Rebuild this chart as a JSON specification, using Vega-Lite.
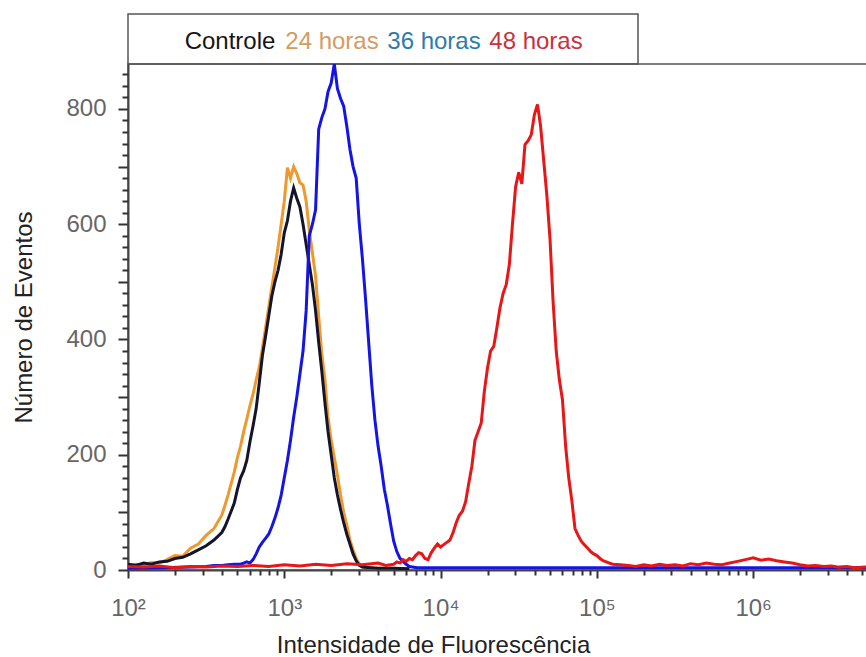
{
  "$schema": "https://vega.github.io/schema/vega-lite/v6.json",
  "autosize": "pad",
  "padding": {"left": 12, "top": 13, "right": 0, "bottom": 0},
  "background": "white",
  "spacing": 0,
  "bounds": "flush",
  "resolve": {"scale": {"color": "independent"}},
  "datasets": {
    "rotulos": [
      {"serie": "Controle"},
      {"serie": "24 horas"},
      {"serie": "36 horas"},
      {"serie": "48 horas"}
    ],
    "curvas": [
      {"serie": "24 horas", "intensidade": 100, "eventos": 8},
      {"serie": "24 horas", "intensidade": 112.2, "eventos": 10},
      {"serie": "24 horas", "intensidade": 125.9, "eventos": 9},
      {"serie": "24 horas", "intensidade": 141.3, "eventos": 13},
      {"serie": "24 horas", "intensidade": 158.5, "eventos": 12},
      {"serie": "24 horas", "intensidade": 177.8, "eventos": 18},
      {"serie": "24 horas", "intensidade": 199.5, "eventos": 25},
      {"serie": "24 horas", "intensidade": 223.9, "eventos": 24},
      {"serie": "24 horas", "intensidade": 251.2, "eventos": 38},
      {"serie": "24 horas", "intensidade": 281.8, "eventos": 45},
      {"serie": "24 horas", "intensidade": 316.2, "eventos": 60},
      {"serie": "24 horas", "intensidade": 354.8, "eventos": 72},
      {"serie": "24 horas", "intensidade": 398.1, "eventos": 95},
      {"serie": "24 horas", "intensidade": 416.9, "eventos": 112},
      {"serie": "24 horas", "intensidade": 436.5, "eventos": 130},
      {"serie": "24 horas", "intensidade": 457.1, "eventos": 150},
      {"serie": "24 horas", "intensidade": 478.6, "eventos": 170},
      {"serie": "24 horas", "intensidade": 501.2, "eventos": 195},
      {"serie": "24 horas", "intensidade": 524.8, "eventos": 215},
      {"serie": "24 horas", "intensidade": 549.5, "eventos": 240},
      {"serie": "24 horas", "intensidade": 575.4, "eventos": 262},
      {"serie": "24 horas", "intensidade": 602.6, "eventos": 285},
      {"serie": "24 horas", "intensidade": 631.0, "eventos": 305},
      {"serie": "24 horas", "intensidade": 660.7, "eventos": 330},
      {"serie": "24 horas", "intensidade": 691.8, "eventos": 352},
      {"serie": "24 horas", "intensidade": 724.4, "eventos": 385},
      {"serie": "24 horas", "intensidade": 758.6, "eventos": 420},
      {"serie": "24 horas", "intensidade": 794.3, "eventos": 455},
      {"serie": "24 horas", "intensidade": 831.8, "eventos": 490},
      {"serie": "24 horas", "intensidade": 871.0, "eventos": 525},
      {"serie": "24 horas", "intensidade": 912.0, "eventos": 560},
      {"serie": "24 horas", "intensidade": 955.0, "eventos": 600},
      {"serie": "24 horas", "intensidade": 1000, "eventos": 640},
      {"serie": "24 horas", "intensidade": 1047, "eventos": 698},
      {"serie": "24 horas", "intensidade": 1096, "eventos": 680},
      {"serie": "24 horas", "intensidade": 1148, "eventos": 700},
      {"serie": "24 horas", "intensidade": 1202, "eventos": 688},
      {"serie": "24 horas", "intensidade": 1259, "eventos": 672},
      {"serie": "24 horas", "intensidade": 1318, "eventos": 668},
      {"serie": "24 horas", "intensidade": 1380, "eventos": 640},
      {"serie": "24 horas", "intensidade": 1445, "eventos": 590},
      {"serie": "24 horas", "intensidade": 1514, "eventos": 550},
      {"serie": "24 horas", "intensidade": 1585, "eventos": 510},
      {"serie": "24 horas", "intensidade": 1660, "eventos": 440},
      {"serie": "24 horas", "intensidade": 1738, "eventos": 375},
      {"serie": "24 horas", "intensidade": 1820, "eventos": 330},
      {"serie": "24 horas", "intensidade": 1905, "eventos": 265},
      {"serie": "24 horas", "intensidade": 1995, "eventos": 225},
      {"serie": "24 horas", "intensidade": 2089, "eventos": 195},
      {"serie": "24 horas", "intensidade": 2188, "eventos": 165},
      {"serie": "24 horas", "intensidade": 2291, "eventos": 130},
      {"serie": "24 horas", "intensidade": 2399, "eventos": 100},
      {"serie": "24 horas", "intensidade": 2512, "eventos": 78},
      {"serie": "24 horas", "intensidade": 2630, "eventos": 52},
      {"serie": "24 horas", "intensidade": 2754, "eventos": 35},
      {"serie": "24 horas", "intensidade": 2884, "eventos": 20},
      {"serie": "24 horas", "intensidade": 3020, "eventos": 10},
      {"serie": "24 horas", "intensidade": 3162, "eventos": 5},
      {"serie": "24 horas", "intensidade": 3548, "eventos": 4},
      {"serie": "24 horas", "intensidade": 3981, "eventos": 3},
      {"serie": "24 horas", "intensidade": 5012, "eventos": 3},
      {"serie": "24 horas", "intensidade": 6310, "eventos": 2},

      {"serie": "Controle", "intensidade": 100, "eventos": 10},
      {"serie": "Controle", "intensidade": 112.2, "eventos": 8},
      {"serie": "Controle", "intensidade": 125.9, "eventos": 12},
      {"serie": "Controle", "intensidade": 141.3, "eventos": 10},
      {"serie": "Controle", "intensidade": 158.5, "eventos": 14},
      {"serie": "Controle", "intensidade": 177.8, "eventos": 15},
      {"serie": "Controle", "intensidade": 199.5, "eventos": 20},
      {"serie": "Controle", "intensidade": 223.9, "eventos": 22},
      {"serie": "Controle", "intensidade": 251.2, "eventos": 28},
      {"serie": "Controle", "intensidade": 281.8, "eventos": 35},
      {"serie": "Controle", "intensidade": 316.2, "eventos": 42},
      {"serie": "Controle", "intensidade": 354.8, "eventos": 52},
      {"serie": "Controle", "intensidade": 398.1, "eventos": 65},
      {"serie": "Controle", "intensidade": 416.9, "eventos": 75},
      {"serie": "Controle", "intensidade": 436.5, "eventos": 88},
      {"serie": "Controle", "intensidade": 457.1, "eventos": 102},
      {"serie": "Controle", "intensidade": 478.6, "eventos": 116},
      {"serie": "Controle", "intensidade": 501.2, "eventos": 140},
      {"serie": "Controle", "intensidade": 524.8, "eventos": 160},
      {"serie": "Controle", "intensidade": 549.5, "eventos": 172},
      {"serie": "Controle", "intensidade": 575.4, "eventos": 190},
      {"serie": "Controle", "intensidade": 602.6, "eventos": 222},
      {"serie": "Controle", "intensidade": 631.0, "eventos": 250},
      {"serie": "Controle", "intensidade": 660.7, "eventos": 280},
      {"serie": "Controle", "intensidade": 691.8, "eventos": 325},
      {"serie": "Controle", "intensidade": 724.4, "eventos": 372},
      {"serie": "Controle", "intensidade": 758.6, "eventos": 405},
      {"serie": "Controle", "intensidade": 794.3, "eventos": 440},
      {"serie": "Controle", "intensidade": 831.8, "eventos": 475},
      {"serie": "Controle", "intensidade": 871.0, "eventos": 500},
      {"serie": "Controle", "intensidade": 912.0, "eventos": 520},
      {"serie": "Controle", "intensidade": 955.0, "eventos": 548},
      {"serie": "Controle", "intensidade": 1000, "eventos": 585},
      {"serie": "Controle", "intensidade": 1047, "eventos": 606},
      {"serie": "Controle", "intensidade": 1096, "eventos": 640},
      {"serie": "Controle", "intensidade": 1148, "eventos": 663},
      {"serie": "Controle", "intensidade": 1202, "eventos": 645},
      {"serie": "Controle", "intensidade": 1259, "eventos": 630},
      {"serie": "Controle", "intensidade": 1318, "eventos": 600},
      {"serie": "Controle", "intensidade": 1380, "eventos": 565},
      {"serie": "Controle", "intensidade": 1445, "eventos": 530},
      {"serie": "Controle", "intensidade": 1514, "eventos": 495},
      {"serie": "Controle", "intensidade": 1585, "eventos": 450},
      {"serie": "Controle", "intensidade": 1660, "eventos": 395},
      {"serie": "Controle", "intensidade": 1738, "eventos": 345},
      {"serie": "Controle", "intensidade": 1820, "eventos": 290},
      {"serie": "Controle", "intensidade": 1905, "eventos": 240},
      {"serie": "Controle", "intensidade": 1995, "eventos": 200},
      {"serie": "Controle", "intensidade": 2089, "eventos": 160},
      {"serie": "Controle", "intensidade": 2188, "eventos": 130},
      {"serie": "Controle", "intensidade": 2291, "eventos": 105},
      {"serie": "Controle", "intensidade": 2399, "eventos": 82},
      {"serie": "Controle", "intensidade": 2512, "eventos": 62},
      {"serie": "Controle", "intensidade": 2630, "eventos": 45},
      {"serie": "Controle", "intensidade": 2754, "eventos": 28},
      {"serie": "Controle", "intensidade": 2884, "eventos": 16},
      {"serie": "Controle", "intensidade": 3020, "eventos": 8},
      {"serie": "Controle", "intensidade": 3162, "eventos": 5},
      {"serie": "Controle", "intensidade": 3548, "eventos": 4},
      {"serie": "Controle", "intensidade": 3981, "eventos": 3},
      {"serie": "Controle", "intensidade": 5012, "eventos": 3},
      {"serie": "Controle", "intensidade": 6310, "eventos": 2},

      {"serie": "36 horas", "intensidade": 100, "eventos": 3},
      {"serie": "36 horas", "intensidade": 158.5, "eventos": 4},
      {"serie": "36 horas", "intensidade": 251.2, "eventos": 5},
      {"serie": "36 horas", "intensidade": 316.2, "eventos": 6},
      {"serie": "36 horas", "intensidade": 354.8, "eventos": 8},
      {"serie": "36 horas", "intensidade": 398.1, "eventos": 8},
      {"serie": "36 horas", "intensidade": 436.5, "eventos": 9},
      {"serie": "36 horas", "intensidade": 478.6, "eventos": 10},
      {"serie": "36 horas", "intensidade": 524.8, "eventos": 10},
      {"serie": "36 horas", "intensidade": 549.5, "eventos": 12},
      {"serie": "36 horas", "intensidade": 575.4, "eventos": 14},
      {"serie": "36 horas", "intensidade": 602.6, "eventos": 12},
      {"serie": "36 horas", "intensidade": 631.0, "eventos": 18},
      {"serie": "36 horas", "intensidade": 660.7, "eventos": 28},
      {"serie": "36 horas", "intensidade": 691.8, "eventos": 40},
      {"serie": "36 horas", "intensidade": 724.4, "eventos": 48},
      {"serie": "36 horas", "intensidade": 758.6, "eventos": 55},
      {"serie": "36 horas", "intensidade": 794.3, "eventos": 62},
      {"serie": "36 horas", "intensidade": 831.8, "eventos": 75},
      {"serie": "36 horas", "intensidade": 871.0, "eventos": 90},
      {"serie": "36 horas", "intensidade": 912.0, "eventos": 108},
      {"serie": "36 horas", "intensidade": 955.0, "eventos": 130},
      {"serie": "36 horas", "intensidade": 1000, "eventos": 160},
      {"serie": "36 horas", "intensidade": 1047, "eventos": 190},
      {"serie": "36 horas", "intensidade": 1096, "eventos": 225},
      {"serie": "36 horas", "intensidade": 1148, "eventos": 265},
      {"serie": "36 horas", "intensidade": 1202, "eventos": 300},
      {"serie": "36 horas", "intensidade": 1259, "eventos": 340},
      {"serie": "36 horas", "intensidade": 1318, "eventos": 380},
      {"serie": "36 horas", "intensidade": 1380, "eventos": 450},
      {"serie": "36 horas", "intensidade": 1445, "eventos": 580},
      {"serie": "36 horas", "intensidade": 1514, "eventos": 600},
      {"serie": "36 horas", "intensidade": 1585, "eventos": 625},
      {"serie": "36 horas", "intensidade": 1660, "eventos": 765},
      {"serie": "36 horas", "intensidade": 1738, "eventos": 785},
      {"serie": "36 horas", "intensidade": 1820, "eventos": 800},
      {"serie": "36 horas", "intensidade": 1905, "eventos": 830},
      {"serie": "36 horas", "intensidade": 1995, "eventos": 845},
      {"serie": "36 horas", "intensidade": 2089, "eventos": 878},
      {"serie": "36 horas", "intensidade": 2188, "eventos": 835},
      {"serie": "36 horas", "intensidade": 2291, "eventos": 818},
      {"serie": "36 horas", "intensidade": 2399, "eventos": 805},
      {"serie": "36 horas", "intensidade": 2512, "eventos": 770},
      {"serie": "36 horas", "intensidade": 2630, "eventos": 730},
      {"serie": "36 horas", "intensidade": 2754, "eventos": 700},
      {"serie": "36 horas", "intensidade": 2884, "eventos": 680},
      {"serie": "36 horas", "intensidade": 3020, "eventos": 600},
      {"serie": "36 horas", "intensidade": 3162, "eventos": 540},
      {"serie": "36 horas", "intensidade": 3311, "eventos": 470},
      {"serie": "36 horas", "intensidade": 3467, "eventos": 395},
      {"serie": "36 horas", "intensidade": 3631, "eventos": 320},
      {"serie": "36 horas", "intensidade": 3802, "eventos": 260},
      {"serie": "36 horas", "intensidade": 3981, "eventos": 215},
      {"serie": "36 horas", "intensidade": 4169, "eventos": 180},
      {"serie": "36 horas", "intensidade": 4365, "eventos": 140},
      {"serie": "36 horas", "intensidade": 4571, "eventos": 112},
      {"serie": "36 horas", "intensidade": 4786, "eventos": 80},
      {"serie": "36 horas", "intensidade": 5012, "eventos": 50},
      {"serie": "36 horas", "intensidade": 5248, "eventos": 32},
      {"serie": "36 horas", "intensidade": 5495, "eventos": 20},
      {"serie": "36 horas", "intensidade": 5754, "eventos": 15},
      {"serie": "36 horas", "intensidade": 6026, "eventos": 10},
      {"serie": "36 horas", "intensidade": 6310, "eventos": 6},
      {"serie": "36 horas", "intensidade": 7079, "eventos": 4},
      {"serie": "36 horas", "intensidade": 10000, "eventos": 4},
      {"serie": "36 horas", "intensidade": 31620, "eventos": 4},
      {"serie": "36 horas", "intensidade": 100000, "eventos": 4},
      {"serie": "36 horas", "intensidade": 316200, "eventos": 4},
      {"serie": "36 horas", "intensidade": 1000000, "eventos": 4},
      {"serie": "36 horas", "intensidade": 3162000, "eventos": 4},
      {"serie": "36 horas", "intensidade": 5495000, "eventos": 4},

      {"serie": "48 horas", "intensidade": 100, "eventos": 6},
      {"serie": "48 horas", "intensidade": 125.9, "eventos": 5},
      {"serie": "48 horas", "intensidade": 158.5, "eventos": 7},
      {"serie": "48 horas", "intensidade": 199.5, "eventos": 4},
      {"serie": "48 horas", "intensidade": 251.2, "eventos": 6},
      {"serie": "48 horas", "intensidade": 316.2, "eventos": 5},
      {"serie": "48 horas", "intensidade": 398.1, "eventos": 7},
      {"serie": "48 horas", "intensidade": 501.2, "eventos": 6},
      {"serie": "48 horas", "intensidade": 631.0, "eventos": 8},
      {"serie": "48 horas", "intensidade": 794.3, "eventos": 6},
      {"serie": "48 horas", "intensidade": 1000, "eventos": 9},
      {"serie": "48 horas", "intensidade": 1259, "eventos": 7},
      {"serie": "48 horas", "intensidade": 1585, "eventos": 10},
      {"serie": "48 horas", "intensidade": 1995, "eventos": 8},
      {"serie": "48 horas", "intensidade": 2512, "eventos": 11},
      {"serie": "48 horas", "intensidade": 3162, "eventos": 9},
      {"serie": "48 horas", "intensidade": 3981, "eventos": 12},
      {"serie": "48 horas", "intensidade": 4467, "eventos": 8},
      {"serie": "48 horas", "intensidade": 5012, "eventos": 10},
      {"serie": "48 horas", "intensidade": 5248, "eventos": 14},
      {"serie": "48 horas", "intensidade": 5495, "eventos": 12},
      {"serie": "48 horas", "intensidade": 5754, "eventos": 18},
      {"serie": "48 horas", "intensidade": 6026, "eventos": 15},
      {"serie": "48 horas", "intensidade": 6310, "eventos": 20},
      {"serie": "48 horas", "intensidade": 6607, "eventos": 18},
      {"serie": "48 horas", "intensidade": 6918, "eventos": 25},
      {"serie": "48 horas", "intensidade": 7244, "eventos": 30},
      {"serie": "48 horas", "intensidade": 7586, "eventos": 28},
      {"serie": "48 horas", "intensidade": 7943, "eventos": 20},
      {"serie": "48 horas", "intensidade": 8318, "eventos": 18},
      {"serie": "48 horas", "intensidade": 8710, "eventos": 30},
      {"serie": "48 horas", "intensidade": 9120, "eventos": 38},
      {"serie": "48 horas", "intensidade": 9550, "eventos": 45},
      {"serie": "48 horas", "intensidade": 10000, "eventos": 40},
      {"serie": "48 horas", "intensidade": 10470, "eventos": 44},
      {"serie": "48 horas", "intensidade": 10960, "eventos": 48},
      {"serie": "48 horas", "intensidade": 11480, "eventos": 52},
      {"serie": "48 horas", "intensidade": 12020, "eventos": 65},
      {"serie": "48 horas", "intensidade": 12590, "eventos": 82},
      {"serie": "48 horas", "intensidade": 13180, "eventos": 95},
      {"serie": "48 horas", "intensidade": 13800, "eventos": 102},
      {"serie": "48 horas", "intensidade": 14450, "eventos": 118},
      {"serie": "48 horas", "intensidade": 15140, "eventos": 150},
      {"serie": "48 horas", "intensidade": 15850, "eventos": 180},
      {"serie": "48 horas", "intensidade": 16600, "eventos": 225},
      {"serie": "48 horas", "intensidade": 17380, "eventos": 240},
      {"serie": "48 horas", "intensidade": 18200, "eventos": 255},
      {"serie": "48 horas", "intensidade": 19050, "eventos": 310},
      {"serie": "48 horas", "intensidade": 19950, "eventos": 350},
      {"serie": "48 horas", "intensidade": 20890, "eventos": 380},
      {"serie": "48 horas", "intensidade": 21880, "eventos": 388},
      {"serie": "48 horas", "intensidade": 22910, "eventos": 420},
      {"serie": "48 horas", "intensidade": 23990, "eventos": 455},
      {"serie": "48 horas", "intensidade": 25120, "eventos": 480},
      {"serie": "48 horas", "intensidade": 26300, "eventos": 495},
      {"serie": "48 horas", "intensidade": 27540, "eventos": 530},
      {"serie": "48 horas", "intensidade": 28840, "eventos": 600},
      {"serie": "48 horas", "intensidade": 30200, "eventos": 665},
      {"serie": "48 horas", "intensidade": 31620, "eventos": 690},
      {"serie": "48 horas", "intensidade": 33110, "eventos": 670},
      {"serie": "48 horas", "intensidade": 34670, "eventos": 738},
      {"serie": "48 horas", "intensidade": 36310, "eventos": 745},
      {"serie": "48 horas", "intensidade": 38020, "eventos": 755},
      {"serie": "48 horas", "intensidade": 39810, "eventos": 790},
      {"serie": "48 horas", "intensidade": 41690, "eventos": 808},
      {"serie": "48 horas", "intensidade": 43650, "eventos": 770},
      {"serie": "48 horas", "intensidade": 45710, "eventos": 710},
      {"serie": "48 horas", "intensidade": 47860, "eventos": 650},
      {"serie": "48 horas", "intensidade": 50120, "eventos": 575},
      {"serie": "48 horas", "intensidade": 52480, "eventos": 465},
      {"serie": "48 horas", "intensidade": 54950, "eventos": 380},
      {"serie": "48 horas", "intensidade": 57540, "eventos": 330},
      {"serie": "48 horas", "intensidade": 60260, "eventos": 295},
      {"serie": "48 horas", "intensidade": 63100, "eventos": 215},
      {"serie": "48 horas", "intensidade": 66070, "eventos": 160},
      {"serie": "48 horas", "intensidade": 69180, "eventos": 120},
      {"serie": "48 horas", "intensidade": 72440, "eventos": 72},
      {"serie": "48 horas", "intensidade": 75860, "eventos": 60},
      {"serie": "48 horas", "intensidade": 79430, "eventos": 50},
      {"serie": "48 horas", "intensidade": 83180, "eventos": 44},
      {"serie": "48 horas", "intensidade": 87100, "eventos": 38},
      {"serie": "48 horas", "intensidade": 91200, "eventos": 32},
      {"serie": "48 horas", "intensidade": 95500, "eventos": 28},
      {"serie": "48 horas", "intensidade": 100000, "eventos": 25},
      {"serie": "48 horas", "intensidade": 104700, "eventos": 20},
      {"serie": "48 horas", "intensidade": 109600, "eventos": 16},
      {"serie": "48 horas", "intensidade": 114800, "eventos": 14},
      {"serie": "48 horas", "intensidade": 125900, "eventos": 10},
      {"serie": "48 horas", "intensidade": 141300, "eventos": 9},
      {"serie": "48 horas", "intensidade": 158500, "eventos": 8},
      {"serie": "48 horas", "intensidade": 177800, "eventos": 6},
      {"serie": "48 horas", "intensidade": 199500, "eventos": 9},
      {"serie": "48 horas", "intensidade": 223900, "eventos": 7},
      {"serie": "48 horas", "intensidade": 251200, "eventos": 10},
      {"serie": "48 horas", "intensidade": 281800, "eventos": 8},
      {"serie": "48 horas", "intensidade": 316200, "eventos": 9},
      {"serie": "48 horas", "intensidade": 354800, "eventos": 7},
      {"serie": "48 horas", "intensidade": 398100, "eventos": 11},
      {"serie": "48 horas", "intensidade": 446700, "eventos": 9},
      {"serie": "48 horas", "intensidade": 501200, "eventos": 12},
      {"serie": "48 horas", "intensidade": 562300, "eventos": 10},
      {"serie": "48 horas", "intensidade": 631000, "eventos": 9},
      {"serie": "48 horas", "intensidade": 707900, "eventos": 12},
      {"serie": "48 horas", "intensidade": 794300, "eventos": 15},
      {"serie": "48 horas", "intensidade": 891300, "eventos": 18},
      {"serie": "48 horas", "intensidade": 1000000, "eventos": 21},
      {"serie": "48 horas", "intensidade": 1122000, "eventos": 17},
      {"serie": "48 horas", "intensidade": 1259000, "eventos": 19},
      {"serie": "48 horas", "intensidade": 1413000, "eventos": 16},
      {"serie": "48 horas", "intensidade": 1585000, "eventos": 14},
      {"serie": "48 horas", "intensidade": 1778000, "eventos": 12},
      {"serie": "48 horas", "intensidade": 1995000, "eventos": 9},
      {"serie": "48 horas", "intensidade": 2239000, "eventos": 7},
      {"serie": "48 horas", "intensidade": 2512000, "eventos": 8},
      {"serie": "48 horas", "intensidade": 2818000, "eventos": 6},
      {"serie": "48 horas", "intensidade": 3162000, "eventos": 7},
      {"serie": "48 horas", "intensidade": 3548000, "eventos": 5},
      {"serie": "48 horas", "intensidade": 3981000, "eventos": 6},
      {"serie": "48 horas", "intensidade": 4467000, "eventos": 4},
      {"serie": "48 horas", "intensidade": 5248000, "eventos": 5},
      {"serie": "48 horas", "intensidade": 5495000, "eventos": 6}
    ]
  },
  "vconcat": [
    {
      "width": 510,
      "height": 50,
      "data": {"name": "rotulos"},
      "mark": {"type": "text", "font": "Liberation Sans", "fontSize": 24, "dy": 3},
      "encoding": {
        "x": {"field": "serie", "type": "nominal", "sort": null, "scale": {"type": "point", "padding": 1.05, "align": 0.5}, "axis": null},
        "text": {"field": "serie"},
        "color": {
          "field": "serie", "type": "nominal", "sort": null,
          "scale": {"domain": ["Controle", "24 horas", "36 horas", "48 horas"], "range": ["#151515", "#D39C62", "#2E7BAA", "#C8323C"]},
          "legend": null
        }
      }
    },
    {
      "width": 739,
      "height": 506,
      "data": {"name": "curvas"},
      "resolve": {"axis": {"x": "independent", "y": "independent"}},
      "layer": [
        {
          "mark": {"type": "line", "strokeWidth": 3, "clip": true},
          "encoding": {
            "x": {
              "field": "intensidade", "type": "quantitative",
              "scale": {"type": "log", "domain": [100, 5350000], "nice": false},
              "axis": {
                "orient": "bottom",
                "title": "Intensidade de Fluorescência",
                "values": [100, 1000, 10000, 100000, 1000000],
                "labelExpr": "datum.value == 100 ? '10²' : datum.value == 1000 ? '10³' : datum.value == 10000 ? '10⁴' : datum.value == 100000 ? '10⁵' : '10⁶'",
                "labelOverlap": false,
                "labelFlush": false,
                "ticks": true,
                "tickSize": 8,
                "labelPadding": 18,
                "titlePadding": 13,
                "titleX": 305
              }
            },
            "y": {
              "field": "eventos", "type": "quantitative",
              "scale": {"domain": [0, 878], "nice": false},
              "axis": {
                "orient": "left",
                "title": "Número de Eventos",
                "values": [0, 100, 200, 300, 400, 500, 600, 700, 800],
                "labelExpr": "datum.value % 200 === 0 ? datum.label : ''",
                "labelOverlap": false,
                "labelFlush": false,
                "ticks": true,
                "tickSize": 10,
                "labelPadding": 12,
                "titlePadding": 29
              }
            },
            "color": {
              "field": "serie", "type": "nominal",
              "scale": {"domain": ["Controle", "24 horas", "36 horas", "48 horas"], "range": ["#14142A", "#F0982E", "#1414E6", "#E81616"]},
              "legend": null
            }
          }
        },
        {
          "mark": {"type": "line", "strokeOpacity": 0, "clip": true},
          "encoding": {
            "x": {
              "field": "intensidade", "type": "quantitative",
              "axis": {
                "orient": "bottom",
                "title": null,
                "values": [200, 300, 400, 500, 600, 700, 800, 900, 2000, 3000, 4000, 5000, 6000, 7000, 8000, 9000, 20000, 30000, 40000, 50000, 60000, 70000, 80000, 90000, 200000, 300000, 400000, 500000, 600000, 700000, 800000, 900000, 2000000, 3000000, 4000000, 5000000],
                "labels": false,
                "domain": false,
                "ticks": true,
                "tickSize": 5
              }
            },
            "y": {
              "field": "eventos", "type": "quantitative",
              "axis": {
                "orient": "left",
                "title": null,
                "values": [20, 40, 60, 80, 120, 140, 160, 180, 220, 240, 260, 280, 320, 340, 360, 380, 420, 440, 460, 480, 520, 540, 560, 580, 620, 640, 660, 680, 720, 740, 760, 780, 820, 840, 860],
                "labels": false,
                "domain": false,
                "ticks": true,
                "tickSize": 6
              }
            },
            "detail": {"field": "serie", "type": "nominal"}
          }
        }
      ]
    }
  ],
  "config": {
    "view": {"stroke": "#555555", "strokeWidth": 1.5},
    "axis": {
      "grid": false,
      "domainColor": "#444444",
      "domainWidth": 2,
      "tickColor": "#333333",
      "tickWidth": 2,
      "labelColor": "#666666",
      "labelFont": "Liberation Sans",
      "labelFontSize": 24,
      "titleFont": "Liberation Sans",
      "titleFontSize": 24,
      "titleFontWeight": "normal",
      "titleColor": "#222222"
    }
  }
}
